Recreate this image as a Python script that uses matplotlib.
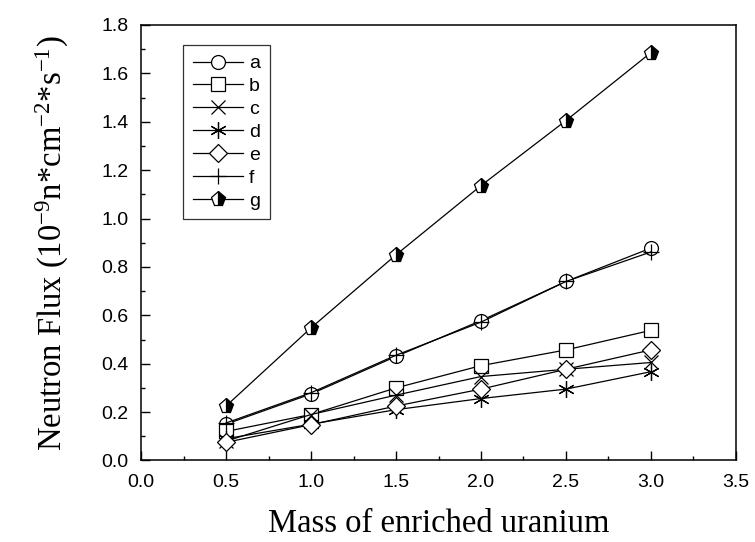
import matplotlib
matplotlib.use("Agg")
import matplotlib.pyplot as plt
from matplotlib.ticker import MultipleLocator

plt.rcParams['mathtext.fontset'] = 'custom'
plt.rcParams['mathtext.rm'] = 'Liberation Serif'
plt.rcParams['mathtext.it'] = 'Liberation Serif:italic'

mass = [0.5, 1.0, 1.5, 2.0, 2.5, 3.0]
flux_a = [0.150, 0.275, 0.430, 0.578, 0.740, 0.878]
flux_b = [0.120, 0.190, 0.300, 0.392, 0.457, 0.538]
flux_c = [0.080, 0.190, 0.270, 0.347, 0.377, 0.405]
flux_d = [0.090, 0.150, 0.210, 0.256, 0.295, 0.367]
flux_e = [0.075, 0.148, 0.225, 0.295, 0.377, 0.457]
flux_f = [0.155, 0.280, 0.435, 0.572, 0.740, 0.862]
flux_g = [0.225, 0.548, 0.850, 1.136, 1.405, 1.686]
labels = ['a', 'b', 'c', 'd', 'e', 'f', 'g']

fig = plt.figure(figsize=(7.55, 5.42), dpi=100)
ax = fig.add_axes([0.1868, 0.1504, 0.7880, 0.8035])

common = dict(color='black', lw=0.9, mec='black', mew=0.9)
ax.plot(mass, flux_a, marker='o', ms=10, mfc='white', label=labels[0], **common)
ax.plot(mass, flux_b, marker='s', ms=9.5, mfc='white', label=labels[1], **common)
ax.plot(mass, flux_c, marker='x', ms=10.5, label=labels[2], **common)
ax.plot(mass, flux_d, marker=(6, 2, 0), ms=12, label=labels[3], **common)
ax.plot(mass, flux_e, marker='D', ms=9.5, mfc='white', label=labels[4], **common)
ax.plot(mass, flux_f, marker='+', ms=12, label=labels[5], **common)
ax.plot(mass, flux_g, marker='p', ms=11, fillstyle='right', mfc='black',
        markerfacecoloralt='white', label=labels[6], **common)

ax.set_xlim(0, 3.5)
ax.set_ylim(0, 1.8)
ax.xaxis.set_major_locator(MultipleLocator(0.5))
ax.xaxis.set_minor_locator(MultipleLocator(0.25))
ax.yaxis.set_major_locator(MultipleLocator(0.2))
ax.yaxis.set_minor_locator(MultipleLocator(0.1))
ax.tick_params(which='both', direction='in', top=False, right=False, width=1.0,
               labelsize=14)
ax.tick_params(axis='y', pad=9)
ax.tick_params(axis='x', pad=10)
ax.tick_params(which='major', length=6.5)
ax.tick_params(which='minor', length=3.2)
for lab in ax.get_xticklabels() + ax.get_yticklabels():
    lab.set_fontfamily('Liberation Sans')
for s in ax.spines.values():
    s.set_linewidth(1.1)

ax.set_xlabel('Mass of enriched uranium', fontfamily='Liberation Serif',
              fontsize=23.5, labelpad=12)
ax.set_ylabel(r'Neutron Flux (10$^{-9}$n*cm$^{-2}$*s$^{-1}$)',
              fontfamily='Liberation Serif', fontsize=23.5, labelpad=22)

leg = ax.legend(loc='upper left', bbox_to_anchor=(0.0706, 0.954),
                frameon=True, fancybox=False, shadow=False,
                prop={'family': 'Liberation Sans', 'size': 14},
                handlelength=2.6, handletextpad=0.3, borderpad=0.5,
                labelspacing=0.27, borderaxespad=0.0)
leg.get_frame().set_edgecolor('black')
leg.get_frame().set_linewidth(0.9)

fig.savefig('out.png', dpi=100)
